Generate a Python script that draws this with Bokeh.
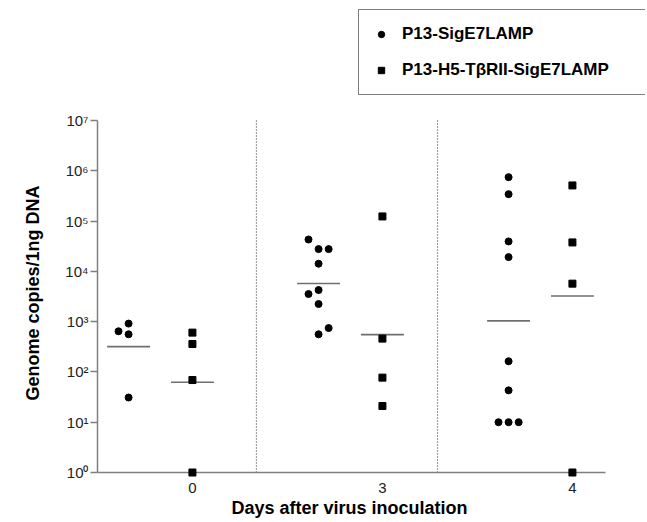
import numpy as np
from bokeh.plotting import figure
from bokeh.models import (Range1d, FixedTicker, Legend, LegendItem,
                          CustomJSTickFormatter, Title)
from bokeh.embed import file_html
from bokeh.resources import INLINE

# ---------------- data ----------------
days = ["0", "3", "4"]
series_names = ["P13-SigE7LAMP", "P13-H5-TβRII-SigE7LAMP"]
sig_e7lamp = [
    [915, 643, 560, 31],
    [43000, 27700, 27700, 14200, 4250, 3540, 2240, 746, 560],
    [747000, 343000, 39400, 19200, 163, 43, 10, 10, 10],
]
h5_tbrii = [
    [605, 359, 69, 1],
    [123600, 460, 77, 21],
    [511000, 37600, 5690, 1],
]
y_ticks = [1, 10, 100, 1000, 10000, 100000, 1000000, 10000000]
x_title = "Days after virus inoculation"
y_title = "Genome copies/1ng DNA"

# ---------------- layout (not data) ----------------
sig_jitter = [[0, -1, 0, 0],
              [-1, 0, 1, 0, 0, -1, 0, 1, 0],
              [0, 0, 0, 0, 0, 0, -1, 0, 1]]
h5_jitter = [[0, 0, 0, 0], [0, 0, 0, 0], [0, 0, 0, 0]]
OFF = 0.168       # offset of each series from group centre
JIT = 0.053       # jitter step
HALF = 0.113      # half width of mean line
DIVIDERS = [0.505, 1.458]
X_START, X_AXIS_END, X_END = -0.3316, 2.342, 2.5526
Y_END = 10 ** 9.3267   # headroom above the axis for the legend
FONT = "Liberation Sans"
GRAY = "#7f7f7f"


def points(series, jitter, off):
    xs, ys = [], []
    for g, (vals, jit) in enumerate(zip(series, jitter)):
        for v, j in zip(vals, jit):
            xs.append(g + off + j * JIT)
            ys.append(v)
    return xs, ys


def means(series, off):
    x0, x1, ym = [], [], []
    for g, vals in enumerate(series):
        gm = 10 ** np.mean(np.log10(vals))
        x0.append(g + off - HALF)
        x1.append(g + off + HALF)
        ym.append(gm)
    return x0, x1, ym


p = figure(width=645, height=520,
           x_range=Range1d(X_START, X_END), y_range=Range1d(y_ticks[0], Y_END),
           y_axis_type="log", output_backend="svg", toolbar_location=None,
           min_border_left=97, min_border_right=0,
           min_border_top=3, min_border_bottom=48)
p.grid.visible = False
p.outline_line_color = None
p.background_fill_color = "white"
p.border_fill_color = "white"

# dividers
for d in DIVIDERS:
    p.segment(x0=[d], y0=[y_ticks[0]], x1=[d], y1=[y_ticks[-1]],
              line_color="#444444", line_width=1.2, line_dash="1 2")

# mean lines
for series, off in ((sig_e7lamp, -OFF), (h5_tbrii, OFF)):
    x0, x1, ym = means(series, off)
    p.segment(x0=x0, y0=ym, x1=x1, y1=ym, line_color="#6f6f6f", line_width=1.6)

sx, sy = points(sig_e7lamp, sig_jitter, -OFF)
hx, hy = points(h5_tbrii, h5_jitter, OFF)
r_sig = p.scatter(sx, sy, marker="circle", size=7, color="black", level="overlay")
r_h5 = p.scatter(hx, hy, marker="square", size=7, color="black", level="overlay")

# y axis
ya = p.yaxis[0]
ya.bounds = (y_ticks[0], y_ticks[-1])
ya.ticker = FixedTicker(ticks=y_ticks, minor_ticks=[])
ya.formatter = CustomJSTickFormatter(code="""
const s = ['\u2070','\u00b9','\u00b2','\u00b3','\u2074','\u2075','\u2076','\u2077','\u2078','\u2079'];
return '10' + s[Math.round(Math.log10(tick))];
""")
ya.major_label_text_font = FONT
ya.major_label_text_font_size = "15px"
ya.major_label_text_color = "#222222"
ya.major_label_standoff = 2
ya.major_tick_out = 7
ya.major_tick_in = 0
ya.minor_tick_line_color = None
ya.major_tick_line_color = GRAY
ya.major_tick_line_width = 1.5
ya.axis_line_color = GRAY
ya.axis_line_width = 1.5

# x axis
xa = p.xaxis[0]
xa.bounds = (X_START, X_AXIS_END)
xa.ticker = FixedTicker(ticks=[g + OFF for g in range(len(days))])
xa.formatter = CustomJSTickFormatter(args=dict(labels=days, off=OFF),
                                     code="return labels[Math.round(tick - off)];")
xa.major_label_text_font = FONT
xa.major_label_text_font_size = "15px"
xa.major_label_text_color = "#222222"
xa.major_label_standoff = 10
xa.major_tick_line_color = None
xa.major_tick_out = 0
xa.major_tick_in = 0
xa.minor_tick_line_color = None
xa.axis_line_color = GRAY
xa.axis_line_width = 1.5

# axis titles (centred on the axis lines, not on the enlarged frame)
p.add_layout(Title(text=x_title, align="left", offset=134, standoff=0,
                   text_font=FONT, text_font_style="bold",
                   text_font_size="18px", text_color="black"), "below")
p.add_layout(Title(text=y_title, align="left", offset=72, standoff=40,
                   text_font=FONT, text_font_style="bold",
                   text_font_size="18px", text_color="black"), "left")

legend = Legend(items=[LegendItem(label=series_names[0], renderers=[r_sig]),
                       LegendItem(label=series_names[1], renderers=[r_h5])],
                location=(261, 377), orientation="vertical",
                padding=14, spacing=16, margin=0,
                glyph_width=16, glyph_height=20, label_height=20,
                label_standoff=13, label_width=229,
                label_text_font=FONT, label_text_font_style="bold",
                label_text_font_size="17px", label_text_color="black",
                border_line_color="black", border_line_width=1,
                background_fill_color="white", background_fill_alpha=1)
p.add_layout(legend, "center")

open("out.html", "w").write(file_html(p, INLINE))
